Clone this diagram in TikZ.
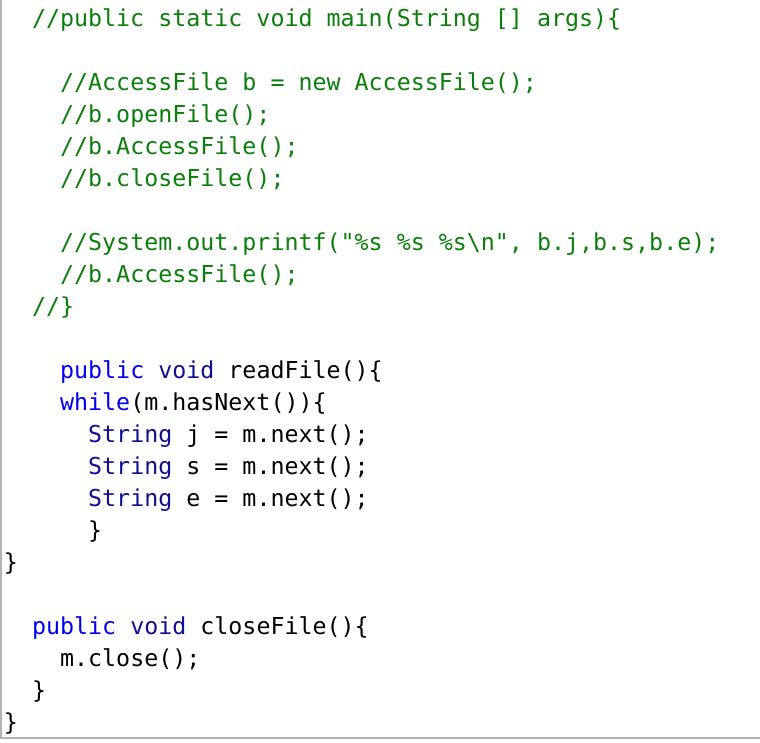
\documentclass[tikz,border=0pt]{standalone}
\usepackage{fontspec}
\newfontfamily\codefont{DejaVu Sans Mono}
\definecolor{cmt}{HTML}{0A800A}
\definecolor{kwa}{HTML}{0000F0}
\definecolor{kwb}{HTML}{101090}
\definecolor{frame}{HTML}{B4B4B4}
\newcommand{\kwA}[1]{\textcolor{kwa}{#1}}
\newcommand{\kwB}[1]{\textcolor{kwb}{#1}}
\tikzset{
  codeline/.style={anchor=base west, inner sep=0pt, outer sep=0pt, font=\codefont\fontsize{23.3}{28}\selectfont, text=black},
  comment/.style={codeline, text=cmt}
}
\begin{document}
\begin{tikzpicture}[x=1pt,y=-1pt]
\useasboundingbox[fill=white] (0,0) rectangle (760,742);
\draw[frame, line width=1.2pt] (1,0) -- (1,738) -- (760,738);
\def\cw{14.03}
\def\rx#1{4+\cw*#1}
\def\ry#1{26+32*#1}
\node[comment] (l0) at ({\rx{2}},{\ry{0}}) {//public static void main(String [] args)\{};
\node[comment] (l2) at ({\rx{4}},{\ry{2}}) {//AccessFile b = new AccessFile();};
\node[comment] (l3) at ({\rx{4}},{\ry{3}}) {//b.openFile();};
\node[comment] (l4) at ({\rx{4}},{\ry{4}}) {//b.AccessFile();};
\node[comment] (l5) at ({\rx{4}},{\ry{5}}) {//b.closeFile();};
\node[comment] (l7) at ({\rx{4}},{\ry{7}}) {//System.out.printf("\%s \%s \%s\textbackslash n", b.j,b.s,b.e);};
\node[comment] (l8) at ({\rx{4}},{\ry{8}}) {//b.AccessFile();};
\node[comment] (l9) at ({\rx{2}},{\ry{9}}) {//\}};
\node[codeline] (l11) at ({\rx{4}},{\ry{11}}) {\kwA{public} \kwB{void} readFile()\{};
\node[codeline] (l12) at ({\rx{4}},{\ry{12}}) {\kwA{while}(m.hasNext())\{};
\node[codeline] (l13) at ({\rx{6}},{\ry{13}}) {\kwB{String} j = m.next();};
\node[codeline] (l14) at ({\rx{6}},{\ry{14}}) {\kwB{String} s = m.next();};
\node[codeline] (l15) at ({\rx{6}},{\ry{15}}) {\kwB{String} e = m.next();};
\node[codeline] (l16) at ({\rx{6}},{\ry{16}}) {\}};
\node[codeline] (l17) at ({\rx{0}},{\ry{17}}) {\}};
\node[codeline] (l19) at ({\rx{2}},{\ry{19}}) {\kwA{public} \kwB{void} closeFile()\{};
\node[codeline] (l20) at ({\rx{4}},{\ry{20}}) {m.close();};
\node[codeline] (l21) at ({\rx{2}},{\ry{21}}) {\}};
\node[codeline] (l22) at ({\rx{0}},{\ry{22}}) {\}};
\end{tikzpicture}
\end{document}
